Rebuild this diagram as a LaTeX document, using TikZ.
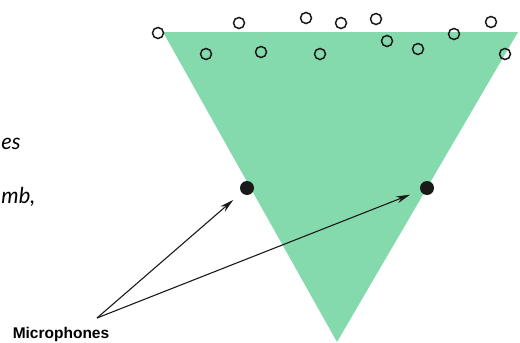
\documentclass[tikz,border=0pt]{standalone}
\usepackage{fontspec}
\setsansfont{Liberation Sans}
\newfontfamily\captionfont{Lato}
\usetikzlibrary{arrows.meta,positioning}
\definecolor{FieldGreen}{RGB}{132,218,172}
\definecolor{MarkInk}{HTML}{1A1A1A}

\begin{document}
\begin{tikzpicture}[x=1pt,y=-1pt,
    source/.style={circle,draw=MarkInk,line width=1.5pt,fill=none,inner sep=0pt,minimum size=11pt},
    mic/.style={circle,fill=MarkInk,inner sep=0pt,minimum size=14pt},
    pointer/.style={-{Stealth[length=14pt,width=7pt]},draw=MarkInk,line width=1.1pt,shorten >=11pt}
  ]
      \useasboundingbox (0,0) rectangle (520,343);
      % sound field
      \fill[FieldGreen] (163,32) -- (518,32) -- (337,342) -- cycle;
      % sources scattered along the top
      \foreach \px/\py [count=\i] in {158/33,239/23,306/18,341/23,376/19,491/22,
          206/54,261/52,320/54,387/41,418/49,454/34,505/54}
        \node[source] (src\i) at (\px,\py) {};
      % microphones
      \node[font=\sffamily\bfseries,scale=1.55,anchor=base,inner sep=0pt] (miclabel) at (61,338) {Microphones};
      \node[mic] (mic1) at (247,188) {};
      \node[mic] (mic2) at (427,188) {};
      \coordinate (tail) at (97,318);
      \draw[pointer] (tail) -- (mic1);
      \draw[pointer] (tail) -- (mic2);
      % caption text on the left
      \node[font=\captionfont\itshape,scale=2.2,anchor=base west,inner sep=0pt] (capa) at (1,149) {es};
      \node[font=\captionfont\itshape,scale=2.2,anchor=base west,inner sep=0pt] (capb) at (1,203) {mb,};
    \end{tikzpicture}
\end{document}
